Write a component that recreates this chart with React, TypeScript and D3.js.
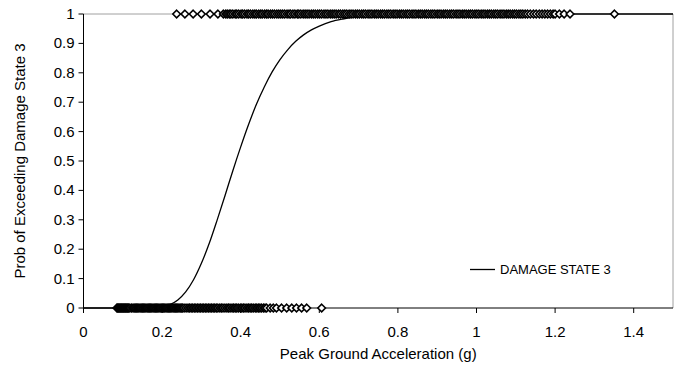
import React from "react";
import * as d3 from "d3";

const xTicks = [0, 0.2, 0.4, 0.6, 0.8, 1, 1.2, 1.4];
const yTicks = [0, 0.1, 0.2, 0.3, 0.4, 0.5, 0.6, 0.7, 0.8, 0.9, 1];

// Observations that did not exceed damage state 3 (plotted at 0)
const zeroObs = [
  0.085, 0.087, 0.089, 0.091, 0.093, 0.095, 0.097, 0.099, 0.101, 0.103, 0.105, 0.107, 0.109,
  0.111, 0.113, 0.115, 0.118, 0.122, 0.126, 0.129, 0.132, 0.135, 0.138, 0.141, 0.144, 0.147,
  0.15, 0.153, 0.156, 0.159, 0.162, 0.165, 0.168, 0.171, 0.174, 0.177, 0.18, 0.183, 0.186,
  0.189, 0.192, 0.195, 0.198, 0.201, 0.204, 0.207, 0.21, 0.213, 0.216, 0.219, 0.222, 0.225,
  0.228, 0.231, 0.234, 0.237, 0.24, 0.243, 0.246, 0.249, 0.252, 0.256, 0.261, 0.266, 0.27,
  0.274, 0.278, 0.282, 0.286, 0.29, 0.294, 0.298, 0.302, 0.306, 0.31, 0.314, 0.318, 0.322,
  0.326, 0.33, 0.334, 0.338, 0.342, 0.347, 0.351, 0.355, 0.36, 0.365, 0.369, 0.373, 0.378,
  0.382, 0.386, 0.39, 0.394, 0.399, 0.403, 0.407, 0.411, 0.416, 0.42, 0.424, 0.428, 0.432,
  0.437, 0.441, 0.445, 0.449, 0.453, 0.458, 0.462, 0.466, 0.475, 0.483, 0.491, 0.504, 0.517,
  0.53, 0.542, 0.555, 0.568, 0.606,
];

// Observations that exceeded damage state 3 (plotted at 1)
const oneObs = [
  0.237, 0.258, 0.279, 0.3, 0.322, 0.342, 0.356, 0.362, 0.366, 0.371, 0.375, 0.38, 0.386, 0.39,
  0.395, 0.401, 0.405, 0.41, 0.416, 0.42, 0.425, 0.431, 0.436, 0.44, 0.446, 0.451, 0.455, 0.461,
  0.466, 0.47, 0.476, 0.481, 0.486, 0.492, 0.497, 0.502, 0.507, 0.512, 0.518, 0.523, 0.527,
  0.533, 0.538, 0.544, 0.548, 0.553, 0.559, 0.564, 0.569, 0.574, 0.58, 0.585, 0.59, 0.596,
  0.601, 0.606, 0.612, 0.617, 0.622, 0.628, 0.633, 0.638, 0.643, 0.649, 0.654, 0.66, 0.665,
  0.67, 0.676, 0.681, 0.686, 0.692, 0.697, 0.702, 0.708, 0.713, 0.718, 0.724, 0.729, 0.734,
  0.74, 0.745, 0.75, 0.756, 0.761, 0.766, 0.772, 0.777, 0.782, 0.788, 0.793, 0.798, 0.804,
  0.809, 0.814, 0.82, 0.825, 0.83, 0.836, 0.841, 0.846, 0.852, 0.857, 0.862, 0.868, 0.873,
  0.878, 0.884, 0.889, 0.894, 0.9, 0.905, 0.91, 0.916, 0.921, 0.926, 0.932, 0.937, 0.942,
  0.948, 0.953, 0.958, 0.964, 0.969, 0.974, 0.98, 0.985, 0.99, 0.996, 1.001, 1.006, 1.012,
  1.017, 1.022, 1.028, 1.033, 1.038, 1.044, 1.049, 1.054, 1.06, 1.065, 1.07, 1.076, 1.081,
  1.086, 1.092, 1.097, 1.102, 1.108, 1.113, 1.118, 1.124, 1.13, 1.137, 1.145, 1.152, 1.16,
  1.167, 1.174, 1.181, 1.188, 1.195, 1.2, 1.211, 1.223, 1.238, 1.351,
];

// Fragility curve
const curveX = [0, 0.1, 0.15, 0.18, 0.2, 0.22, 0.24, 0.26, 0.28, 0.3, 0.32, 0.34, 0.36, 0.38,
  0.4, 0.42, 0.44, 0.46, 0.48, 0.5, 0.52, 0.54, 0.56, 0.58, 0.6, 0.63, 0.66, 0.7, 0.75, 0.8,
  0.9, 1.0, 1.5];
const curveP = [0, 0, 0.0001, 0.001, 0.004, 0.0116, 0.0273, 0.0546, 0.096, 0.152, 0.22, 0.299,
  0.382, 0.467, 0.548, 0.624, 0.693, 0.752, 0.803, 0.845, 0.879, 0.907, 0.929, 0.946, 0.959,
  0.974, 0.983, 0.991, 0.996, 0.998, 0.9995, 1, 1];

const seriesName = "DAMAGE STATE 3";
const xTitle = "Peak Ground Acceleration (g)";
const yTitle = "Prob of Exceeding Damage State 3";

export default function App() {
  const W = 680, H = 366;
  const L = 83.5, R = 673, T = 14, B = 308;
  const x = d3.scaleLinear().domain([0, 1.5]).range([L, R]);
  const y = d3.scaleLinear().domain([0, 1]).range([B, T]);
  const font = "'Liberation Sans', Arial, sans-serif";

  const line = d3
    .line<number>()
    .x((_, i) => x(curveX[i]))
    .y((d) => y(d))
    .curve(d3.curveMonotoneX);
  const curvePath = line(curveP) || "";

  const r = 3.8;
  const diamond = (cx: number, cy: number) =>
    `M${cx},${cy - r}L${cx + r},${cy}L${cx},${cy + r}L${cx - r},${cy}Z`;

  return (
    <svg
      width={W}
      height={H}
      style={{ position: "absolute", left: 0, top: 0, background: "#fff" }}
      fontFamily={font}
    >
      <rect x={0} y={0} width={W} height={H} fill="#fff" />
      {/* plot border */}
      <line x1={L} x2={R} y1={T} y2={T} stroke="#a0a0a0" strokeWidth={1} />
      <line x1={R} x2={R} y1={T} y2={B} stroke="#a0a0a0" strokeWidth={1} />
      {/* axes */}
      <line x1={L} x2={L} y1={T} y2={B} stroke="#000" strokeWidth={1} />
      <line x1={L} x2={R} y1={B} y2={B} stroke="#000" strokeWidth={1} />
      {yTicks.map((t) => (
        <g key={"y" + t}>
          <line x1={L - 5} x2={L} y1={y(t)} y2={y(t)} stroke="#000" />
          <text x={L - 9} y={y(t) + 5} fontSize={15} textAnchor="end" fill="#000">
            {t}
          </text>
        </g>
      ))}
      {xTicks.map((t) => (
        <g key={"x" + t}>
          <line x1={x(t)} x2={x(t)} y1={B} y2={B + 5} stroke="#000" />
          <text x={x(t)} y={B + 29} fontSize={15} textAnchor="middle" fill="#000">
            {t}
          </text>
        </g>
      ))}
      <text x={(L + R) / 2} y={359} fontSize={15} textAnchor="middle" fill="#000">
        {xTitle}
      </text>
      <text
        transform={`translate(25,${(T + B) / 2}) rotate(-90)`}
        fontSize={15}
        textAnchor="middle"
        fill="#000"
      >
        {yTitle}
      </text>
      {/* curve */}
      <path d={curvePath} fill="none" stroke="#000" strokeWidth={1.3} />
      {/* observations */}
      {zeroObs.map((v, i) => (
        <path key={"z" + i} d={diamond(x(v), y(0))} fill="#fff" stroke="#000" strokeWidth={1.6} />
      ))}
      {oneObs.map((v, i) => (
        <path key={"o" + i} d={diamond(x(v), y(1))} fill="#fff" stroke="#000" strokeWidth={1.6} />
      ))}
      {/* legend */}
      <line x1={470} x2={495} y1={269.5} y2={269.5} stroke="#000" strokeWidth={1.3} />
      <text x={500} y={274} fontSize={13} fill="#000">
        {seriesName}
      </text>
    </svg>
  );
}
